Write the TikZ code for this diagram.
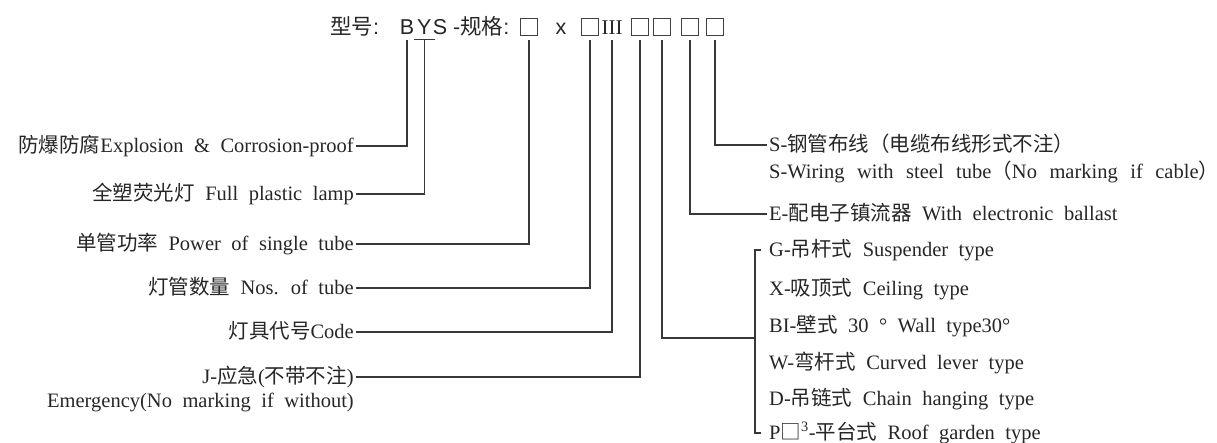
\documentclass[tikz,border=0pt]{standalone}
\usepackage{fontspec}
\setmainfont{Liberation Serif}
\setsansfont{Liberation Sans}
\newfontfamily\cjkfont{Noto Sans CJK SC}
\newcommand{\zhtext}[1]{{\cjkfont #1}}
\usetikzlibrary{positioning}

\begin{document}
\begin{tikzpicture}[
  x=1pt, y=-1pt,
  head/.style={font=\sffamily\fontsize{21.5}{21.5}\selectfont, text=black!85, inner sep=0pt},
  slot/.style={draw=black!75, line width=0.9pt, minimum width=17.5pt, minimum height=17pt, inner sep=0pt},
  entry/.style={font=\fontsize{20.5}{22}\selectfont, text=black!85, inner sep=2pt, text height=16pt, text depth=3pt,
    execute at begin node={\spaceskip=10.5pt plus 2pt\relax}},
  lefttag/.style={entry, anchor=east},
  righttag/.style={entry, anchor=west},
  lead/.style={draw=black!78, line width=1.3pt, shorten <=5pt}
]
\useasboundingbox (0,0) rectangle (1217,443);

% model code
\node[head, anchor=base west] (model) at (330,35) {\zhtext{型号}:};
\node[head, anchor=base] (b) at (407,35) {B};
\node[head, right=2.5pt of b] (y) {Y};
\node[head, anchor=base west, xshift=1pt] (spec) at (y.base east) {S -\zhtext{规格}:};
\node[slot] (s1) at (529,26.5) {};
\node[head, anchor=base] (times) at (561,35) {x};
\node[slot] (s2) at (590,26.5) {};
\node[head, font=\fontsize{21}{21}\selectfont, anchor=base] (iii) at (612,35) {III};
\node[slot] (s3) at (640,26.5) {};
\node[slot] (s4) at (662,26.5) {};
\node[slot] (s5) at (690,26.5) {};
\node[slot] (s6) at (715,26.5) {};

\node[lefttag] (proof) at (356,146) {\zhtext{防爆防腐}Explosion \& Corrosion-proof};
\node[lefttag] (lamp) at (356,194) {\zhtext{全塑荧光灯} Full plastic lamp};
\node[lefttag] (power) at (356,244) {\zhtext{单管功率} Power of single tube};
\node[lefttag] (nos) at (356,288) {\zhtext{灯管数量} Nos. of tube};
\node[lefttag] (code) at (356,332) {\zhtext{灯具代号}Code};
\node[lefttag] (emerg) at (356,377) {J-\zhtext{应急}(\zhtext{不带不注})};
\node[lefttag] (emergen) at (356,401) {Emergency(No marking if without)};

\node[righttag] (steel) at (767,145) {S-\zhtext{钢管布线（电缆布线形式不注）}};
\node[righttag, execute at begin node={\spaceskip=12.5pt plus 2pt\relax}] (steelen) at (767,172)
  {S-Wiring with steel tube\zhtext{（}No marking if cable\zhtext{）}};
\node[righttag] (ballast) at (767,214) {E-\zhtext{配电子镇流器} With electronic ballast};

\node[righttag] (hang) at (767,250) {G-\zhtext{吊杆式} Suspender type};
\node[righttag] (ceil) at (767,289) {X-\zhtext{吸顶式} Ceiling type};
\node[righttag] (wall) at (767,326) {BI-\zhtext{壁式} 30 ° Wall type30°};
\node[righttag] (lever) at (767,363) {W-\zhtext{弯杆式} Curved lever type};
\node[righttag] (chain) at (767,399) {D-\zhtext{吊链式} Chain hanging type};
\node[righttag] (roof) at (767,433) {P\zhtext{□}\textsuperscript{3}-\zhtext{平台式} Roof garden type};
\coordinate (mount) at (755,338);

% leads
\draw[lead] (b.south) |- (proof.east);
\draw[lead, shorten <=0pt] ([xshift=-3pt,yshift=-4pt]y.south west) -- ([xshift=3pt,yshift=-4pt]y.south east);
\draw[lead, shorten <=4pt] (y.south) |- (lamp.east);
\draw[lead] (s1.south) |- (power.east);
\draw[lead] (s2.south) |- (nos.east);
\draw[lead] (iii.south) |- (code.east);
\draw[lead] (s3.south) |- (emerg.east);
\draw[lead] (s4.south) |- (mount);
\draw[lead] (s5.south) |- (ballast.west);
\draw[lead] (s6.south) |- (steel.west);
\draw[lead, shorten <=0pt] ([xshift=-6pt]hang.west) -- ([xshift=-12pt]hang.west) |- ([xshift=-6pt]roof.west);

\end{tikzpicture}
\end{document}
